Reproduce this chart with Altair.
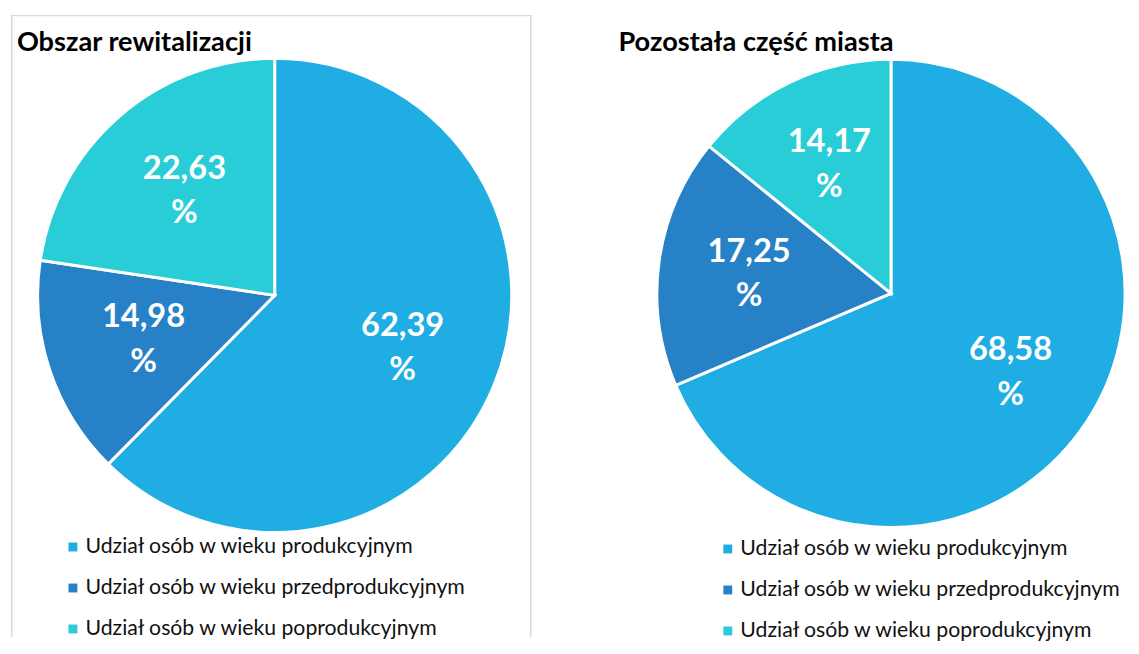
import altair as alt
import pandas as pd

# ---- data ----
categories = [
    "Udział osób w wieku produkcyjnym",
    "Udział osób w wieku przedprodukcyjnym",
    "Udział osób w wieku poprodukcyjnym",
]
colors = ["#1FADE4", "#2781C7", "#29CDD7"]
rew_values = [62.39, 14.98, 22.63]
rest_values = [68.58, 17.25, 14.17]
panel_titles = ["Obszar rewitalizacji", "Pozostała część miasta"]

FONT = "Lato"
H = 630


def make_df(values):
    return pd.DataFrame({
        "kategoria": categories,
        "wartosc": values,
        "kolejnosc": list(range(len(values))),
        "etykieta": [f"{v:.2f}".replace(".", ",") + "\n%" for v in values],
    })


def panel(values, title, width, cx, cy, r, label_r, legend_x, legend_y,
          row_pad, title_x, framed):
    df = make_df(values)
    base = alt.Chart(df).encode(
        theta=alt.Theta("wartosc:Q", stack=True),
        order=alt.Order("kolejnosc:Q"),
    )
    color = alt.Color(
        "kategoria:N",
        scale=alt.Scale(domain=categories, range=colors),
        legend=alt.Legend(
            title=None, orient="none", legendX=legend_x, legendY=legend_y,
            symbolType="square", symbolSize=81, symbolStrokeWidth=0,
            labelFontSize=21.5, labelFont=FONT, labelColor="#111111",
            rowPadding=row_pad, labelOffset=2, padding=0, labelLimit=600,
        ),
    )
    arcs = base.mark_arc(outerRadius=r, stroke="white", strokeWidth=3).encode(
        color=color, x=alt.value(cx), y=alt.value(cy)
    )
    labels = base.mark_text(
        radius=label_r, font=FONT, fontSize=33, fontWeight="bold",
        color="white", lineBreak="\n", lineHeight=45, dy=-22,
        align="center", baseline="middle",
    ).encode(text="etykieta:N", x=alt.value(cx), y=alt.value(cy))
    ttl = alt.Chart(pd.DataFrame({"t": [title]})).mark_text(
        align="left", baseline="alphabetic", font=FONT, fontSize=27.5,
        fontWeight="bold", color="black",
    ).encode(text="t:N", x=alt.value(title_x), y=alt.value(37))
    layers = []
    if framed:
        fc = "#D9D9D9"
        layers += [
            alt.Chart().mark_rule(color=fc, strokeWidth=1.5).encode(
                x=alt.value(0.75), y=alt.value(0), y2=alt.value(H)),
            alt.Chart().mark_rule(color=fc, strokeWidth=1.5).encode(
                x=alt.value(0), x2=alt.value(width), y=alt.value(0.75)),
            alt.Chart().mark_rule(color=fc, strokeWidth=1.5).encode(
                x=alt.value(width - 0.75), y=alt.value(0), y2=alt.value(H)),
        ]
    layers += [arcs, labels, ttl]
    return alt.layer(*layers).properties(width=width, height=H)


left = panel(rew_values, panel_titles[0], 527, 267, 284, 240, 140,
             52, 528, 18.5, 6, True)
right = panel(rest_values, panel_titles[1], 561, 330, 282, 237, 145,
              154, 530, 18.5, 54, False)

chart = (
    alt.hconcat(left, right, spacing=33)
    .resolve_scale(color="independent")
    .resolve_legend(color="independent")
    .properties(padding={"left": 2, "top": 2, "right": 0, "bottom": 0},
                background="white")
    .configure(font=FONT)
    .configure_view(stroke="transparent", strokeWidth=0)
)

chart.save("out.html", embed_options={"renderer": "svg", "actions": False})
